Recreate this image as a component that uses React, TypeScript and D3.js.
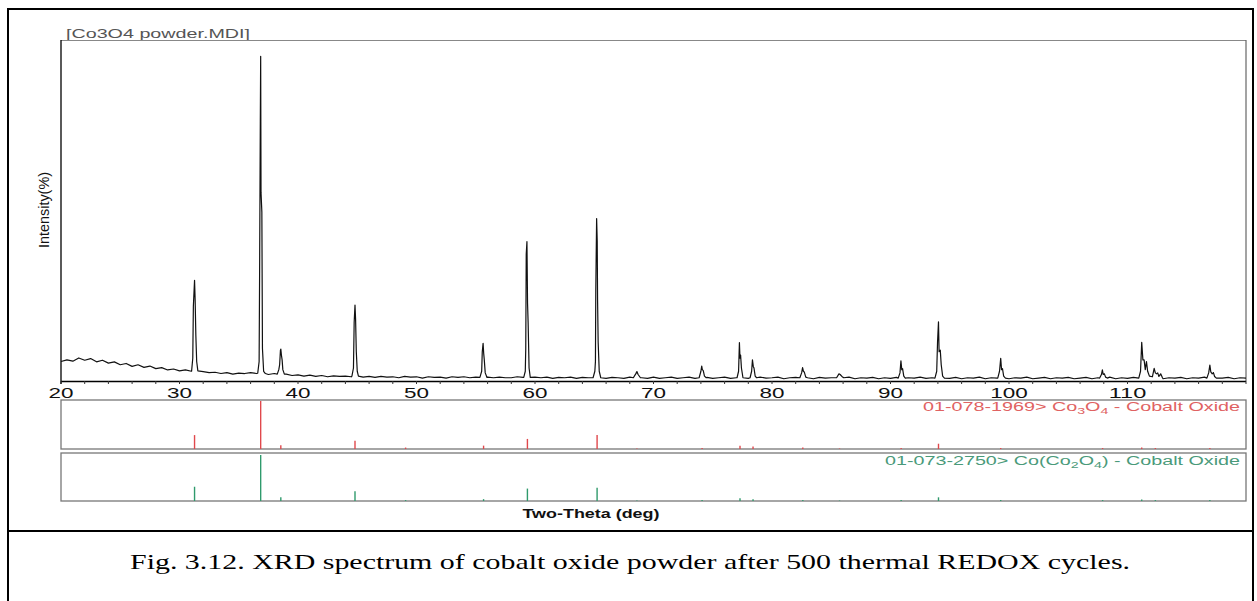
import React from "react";
import * as d3 from "d3";

// ---------- data ----------
const xTicks = [20, 30, 40, 50, 60, 70, 80, 90, 100, 110];
const minorTicks = d3.range(20, 121, 2);

// measured background, fixed step scan (2θ start, step), intensity in %
const bgStart = 20;
const bgStep = 0.5;
const background = [
  6.0, 6.5, 6.1, 7.1, 6.4, 6.9, 5.9, 6.4, 5.5, 5.9,
  5.0, 5.4, 4.5, 5.0, 4.2, 4.6, 3.8, 4.1, 3.4, 3.7,
  3.1, 3.4, 3.0, 3.1, 2.9, 2.6, 2.7, 2.3, 2.6, 2.1,
  2.4, 2.3, 2.6, 2.3, 2.3, 2.0, 2.3, 2.0, 2.1, 1.7,
  1.9, 1.5, 1.8, 1.4, 1.7, 1.3, 1.6, 1.4, 1.5, 1.3,
  1.6, 1.2, 1.4, 1.1, 1.4, 1.2, 1.3, 1.0, 1.4, 1.2,
  1.3, 0.9, 1.3, 1.1, 1.2, 0.9, 1.3, 1.1, 1.3, 1.0,
  1.2, 0.9, 1.2, 1.0, 1.2, 1.0, 1.0, 1.3, 1.1, 0.9,
  1.2, 1.0, 1.2, 0.8, 1.1, 1.0, 1.2, 0.8, 1.1, 1.0,
  1.0, 1.2, 0.8, 1.1, 1.0, 0.8, 1.2, 1.0, 1.0, 0.8,
  1.2, 0.8, 1.0, 1.2, 0.8, 1.0, 1.2, 0.8, 1.0, 1.1,
  0.8, 1.0, 1.2, 0.8, 1.0, 1.1, 0.8, 1.0, 1.2, 0.9,
  1.0, 1.2, 0.7, 1.0, 1.1, 0.8, 1.0, 0.7, 1.1, 0.9,
  1.0, 0.8, 1.0, 1.2, 0.7, 1.0, 0.9, 1.1, 0.7, 1.0,
  0.8, 1.1, 0.7, 1.0, 0.9, 1.2, 0.8, 1.0, 0.7, 1.0,
  0.8, 1.1, 0.7, 1.0, 0.9, 1.2, 0.7, 1.0, 0.9, 1.1,
  0.7, 1.0, 0.9, 1.2, 0.7, 0.9, 1.1, 0.7, 1.0, 0.9,
  1.1, 0.7, 0.9, 1.1, 0.7, 1.0, 0.9, 1.2, 0.7, 1.0,
  0.8, 1.1, 0.7, 1.0, 0.9, 1.2, 0.7, 1.0, 0.9, 1.1,
  0.7, 1.0, 0.9, 1.2, 0.7, 1.0, 0.9, 1.1, 0.7, 1.0,
  0.9,
];

// measured peak profiles [2θ, intensity %]
const peaks: number[][][] = [
  [[31.02, 3.0], [31.12, 7], [31.17, 23], [31.27, 31], [31.32, 25], [31.38, 14], [31.45, 6], [31.55, 3.1]],
  [[36.6, 2.4], [36.72, 6], [36.76, 33], [36.82, 80], [36.85, 100], [36.88, 58], [36.95, 52], [37.0, 10], [37.1, 3], [37.25, 2.3]],
  [[38.25, 2.1], [38.38, 3.5], [38.45, 5], [38.52, 9.5], [38.55, 9.8], [38.6, 8], [38.66, 6.5], [38.72, 3.5], [38.85, 2.1]],
  [[44.55, 1.5], [44.68, 4], [44.74, 18], [44.81, 23.4], [44.86, 19], [44.92, 9], [45.0, 3], [45.1, 1.5]],
  [[55.35, 1.1], [55.5, 3], [55.55, 9], [55.62, 11.6], [55.67, 8.5], [55.72, 6.5], [55.8, 2.5], [55.95, 1.1]],
  [[59.05, 1.1], [59.18, 3], [59.22, 10], [59.26, 39], [59.32, 42.9], [59.37, 24], [59.42, 18], [59.5, 4], [59.6, 1.1]],
  [[64.9, 1.0], [65.05, 3], [65.1, 6], [65.13, 28], [65.2, 50], [65.25, 43], [65.28, 25], [65.33, 12], [65.42, 3], [65.55, 1.0]],
  [[68.3, 1.0], [68.5, 2.2], [68.6, 2.9], [68.7, 2.0], [68.9, 1.0]],
  [[73.85, 1.0], [74.0, 3], [74.07, 4.6], [74.12, 3.5], [74.2, 3.2], [74.3, 1.5], [74.45, 1.0]],
  [[77.05, 1.0], [77.18, 3], [77.25, 11.8], [77.3, 7], [77.35, 8], [77.42, 4], [77.55, 1.0]],
  [[78.15, 1.0], [78.28, 3], [78.35, 6.5], [78.42, 4.5], [78.48, 4], [78.58, 1.5], [78.7, 1.0]],
  [[82.35, 1.0], [82.5, 2.5], [82.58, 4.1], [82.65, 3], [82.72, 2.8], [82.85, 1.2], [83.0, 1.0]],
  [[85.45, 1.0], [85.65, 2.2], [85.75, 2.0], [85.9, 1.4], [86.05, 1.0]],
  [[90.65, 0.9], [90.8, 2.5], [90.88, 6.2], [90.95, 3.5], [91.02, 3.8], [91.12, 1.5], [91.25, 0.9]],
  [[93.75, 0.9], [93.9, 3], [93.97, 12], [94.05, 18.2], [94.1, 9], [94.2, 9.5], [94.28, 5], [94.4, 1.5], [94.55, 0.9]],
  [[99.05, 0.9], [99.2, 3], [99.3, 7], [99.37, 3.5], [99.45, 3.8], [99.55, 1.5], [99.7, 0.9]],
  [[107.65, 0.9], [107.8, 2], [107.88, 3.4], [107.95, 2], [108.05, 2.2], [108.15, 1.2], [108.3, 0.9]],
  [[110.95, 0.9], [111.1, 3], [111.2, 11.9], [111.3, 6.5], [111.4, 6.5], [111.5, 3.5], [111.6, 6], [111.7, 3], [111.85, 1.5], [112.1, 1.3], [112.25, 3.9], [112.35, 2.5], [112.45, 2.2], [112.55, 2.5], [112.65, 1.4], [112.8, 2.2], [112.95, 1.0]],
  [[116.7, 0.9], [116.85, 2.5], [116.95, 4.9], [117.03, 2.8], [117.15, 2.2], [117.25, 2.6], [117.35, 1.4], [117.5, 0.9]],
];

// reference patterns (stick positions and relative intensities)
const refPositions = [31.27, 36.85, 38.55, 44.81, 49.08, 55.66, 59.36, 65.24, 68.6, 74.1, 77.3, 78.4, 82.6, 85.7, 90.9, 94.05, 99.3, 107.9, 111.2, 112.35, 116.95];
const refCo3O4 = [29, 100, 8, 17, 3, 7, 21, 29, 1, 2, 7, 5, 3, 1, 2, 11, 2, 2, 3, 2, 2];
const refCoCo2O4 = [31, 100, 8, 21, 2, 4, 27, 29, 1, 2, 6, 4, 2, 1, 2, 8, 2, 2, 3, 2, 2];

const titleText = "[Co3O4 powder.MDI]";
const yLabel = "Intensity(%)";
const xLabel = "Two-Theta (deg)";
const caption = "Fig. 3.12. XRD spectrum of cobalt oxide powder after 500 thermal REDOX cycles.";

export default function App() {
  const left = 61, right = 1246, top = 40, bottom = 381;
  const x = d3.scaleLinear().domain([20, 120]).range([left, right]);
  const y = d3.scaleLinear().domain([0, 105]).range([bottom, top]);
  const yRed = d3.scaleLinear().domain([0, 100]).range([449, 401]);
  const yGreen = d3.scaleLinear().domain([0, 100]).range([501, 455]);

  const ranges = peaks.map((p) => [p[0][0], p[p.length - 1][0]]);
  const bgPts = background
    .map((v, i) => [bgStart + i * bgStep, v])
    .filter(([t]) => !ranges.some(([a, b]) => t >= a && t <= b));
  const all = [...bgPts, ...peaks.flat()].sort((a, b) => a[0] - b[0]);
  const line = d3.line<number[]>().x((d) => x(d[0])).y((d) => y(d[1]));

  const sans = "'Liberation Sans', Arial, sans-serif";

  return (
    <svg
      width={1257}
      height={601}
      style={{ position: "absolute", left: 0, top: 0, background: "#fff" }}
    >
      {/* outer frame */}
      <rect x={8} y={9} width={1245} height={600} fill="none" stroke="#000" strokeWidth={2} />
      <line x1={8} x2={1253} y1={531} y2={531} stroke="#000" strokeWidth={2} />

      {/* title */}
      <text x={66} y={38} fontFamily={sans} fontSize={12.5} fill="#555" textLength={184} lengthAdjust="spacingAndGlyphs">
        {titleText}
      </text>

      {/* plot frame */}
      <line x1={left} x2={right} y1={top + 0.5} y2={top + 0.5} stroke="#888" strokeWidth={1} />
      <line x1={right} x2={right} y1={top} y2={bottom} stroke="#666" strokeWidth={1.2} />
      <line x1={left} x2={left} y1={top} y2={bottom + 3} stroke="#000" strokeWidth={1.3} />
      <line x1={left} x2={right} y1={bottom + 0.5} y2={bottom + 0.5} stroke="#000" strokeWidth={1.3} />

      {/* ticks */}
      {minorTicks.map((t) => (
        <line key={t} x1={x(t)} x2={x(t)} y1={bottom} y2={bottom + 3} stroke="#333" strokeWidth={1} />
      ))}
      {xTicks.map((t) => {
        const s = String(t);
        return (
          <text
            key={t}
            x={x(t)}
            y={398}
            textAnchor="middle"
            fontFamily={sans}
            fontSize={14.5}
            fill="#111"
            textLength={s.length * 12.5}
            lengthAdjust="spacingAndGlyphs"
          >
            {s}
          </text>
        );
      })}

      {/* y label */}
      <text
        transform="translate(49,210) rotate(-90)"
        textAnchor="middle"
        fontFamily={sans}
        fontSize={14}
        fill="#111"
        textLength={76}
        lengthAdjust="spacingAndGlyphs"
      >
        {yLabel}
      </text>

      {/* spectrum */}
      <path d={line(all) || ""} fill="none" stroke="#111" strokeWidth={1.2} strokeLinejoin="round" />

      {/* reference panel 1 */}
      <rect x={left} y={400} width={right - left} height={49} fill="none" stroke="#777" strokeWidth={1.3} />
      {refPositions.map((p, i) => (
        <line key={"r" + i} x1={x(p)} x2={x(p)} y1={yRed(0)} y2={yRed(refCo3O4[i])} stroke="#e0484c" strokeWidth={1.4} />
      ))}
      <text
        x={1240}
        y={411}
        textAnchor="end"
        fontFamily={sans}
        fontSize={12.5}
        fill="#e06262"
        textLength={317}
        lengthAdjust="spacingAndGlyphs"
      >
        01-078-1969&gt; Co
        <tspan fontSize={9} dy={3}>3</tspan>
        <tspan dy={-3}>O</tspan>
        <tspan fontSize={9} dy={3}>4</tspan>
        <tspan dy={-3}> - Cobalt Oxide</tspan>
      </text>

      {/* reference panel 2 */}
      <rect x={left} y={453} width={right - left} height={48} fill="none" stroke="#777" strokeWidth={1.3} />
      {refPositions.map((p, i) => (
        <line key={"g" + i} x1={x(p)} x2={x(p)} y1={yGreen(0)} y2={yGreen(refCoCo2O4[i])} stroke="#2f9a6c" strokeWidth={1.4} />
      ))}
      <text
        x={1240}
        y={465}
        textAnchor="end"
        fontFamily={sans}
        fontSize={12.5}
        fill="#4a9a7a"
        textLength={355}
        lengthAdjust="spacingAndGlyphs"
      >
        01-073-2750&gt; Co(Co
        <tspan fontSize={9} dy={3}>2</tspan>
        <tspan dy={-3}>O</tspan>
        <tspan fontSize={9} dy={3}>4</tspan>
        <tspan dy={-3}>) - Cobalt Oxide</tspan>
      </text>

      {/* x label */}
      <text
        x={591}
        y={518}
        textAnchor="middle"
        fontFamily={sans}
        fontSize={12.5}
        fontWeight="bold"
        fill="#111"
        textLength={137}
        lengthAdjust="spacingAndGlyphs"
      >
        {xLabel}
      </text>

      {/* caption */}
      <text
        x={630}
        y={569}
        textAnchor="middle"
        fontFamily="'Liberation Serif', 'Times New Roman', serif"
        fontSize={22}
        fill="#000"
        textLength={1000}
        lengthAdjust="spacingAndGlyphs"
      >
        {caption}
      </text>
    </svg>
  );
}
